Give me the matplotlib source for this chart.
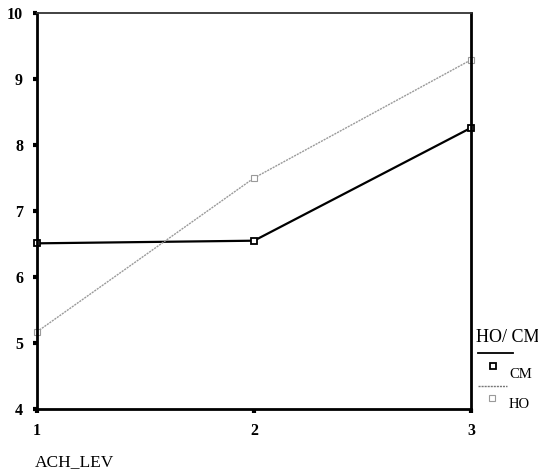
import matplotlib
matplotlib.use("Agg")
import matplotlib.pyplot as plt
from matplotlib.lines import Line2D

x_levels = [1, 2, 3]
cm_values = [6.51, 6.55, 8.26]
ho_values = [5.17, 7.50, 9.29]
y_ticks = [4, 5, 6, 7, 8, 9, 10]
x_ticks = [1, 2, 3]
series_names = ['CM', 'HO']
legend_title = 'HO/ CM'
x_label = 'ACH_LEV'

plt.rcParams['font.family'] = ['Liberation Serif', 'DejaVu Serif']

W, H = 538, 471
fig = plt.figure(figsize=(W/100, H/100), dpi=100)
ax = fig.add_axes([37/W, 1 - 409/H, (471-37)/W, (409-13)/H])

cm_style = dict(color='black', lw=1.6, marker='s', ms=5, mfc='white', mec='black', mew=1.3)
ho_style = dict(color='#9a9a9a', lw=1.0, ls=(0, (1.5, 0.7)), marker='s', ms=5,
                mfc='white', mec='#9a9a9a', mew=0.8)

ax.plot(x_levels, cm_values, clip_on=False, **cm_style)
ax.plot(x_levels, ho_values, clip_on=False, **ho_style)

ax.set_xlim(1, 3)
ax.set_ylim(4, 10)
ax.set_xticks(x_ticks)
ax.set_yticks(y_ticks)
ax.tick_params(axis='both', direction='out', length=3, width=3, labelsize=11.5)
ax.tick_params(axis='y', pad=7)
ax.tick_params(axis='x', pad=7)
for lbl in ax.get_xticklabels() + ax.get_yticklabels():
    lbl.set_fontweight('bold')
ax.spines['left'].set_linewidth(2.0)
ax.spines['bottom'].set_linewidth(2.0)
ax.spines['right'].set_linewidth(2.0)
ax.spines['top'].set_linewidth(1.3)
ax.spines['top'].set_color('#333333')

fig.text(35/W, 1 - 462/H, x_label, fontsize=12.5, ha='left', va='center')

# legend drawn in figure pixel coordinates
def fx(px):
    return px / W

def fy(py):
    return 1 - py / H

fig.text(fx(476), fy(338), legend_title, fontsize=13, ha='left', va='center')
fig.add_artist(Line2D([fx(478), fx(513)], [fy(353), fy(353)], color='black', lw=1.3))
fig.add_artist(Line2D([fx(493)], [fy(366)], ls='none', marker='s', ms=5,
                      mfc='white', mec='black', mew=1.3))
fig.text(fx(509), fy(374), series_names[0], fontsize=10.5, ha='left', va='center')
fig.add_artist(Line2D([fx(478), fx(507)], [fy(386), fy(386)], color='#777777', lw=1.0,
                      ls=(0, (1.5, 0.7))))
fig.add_artist(Line2D([fx(492)], [fy(398)], ls='none', marker='s', ms=5,
                      mfc='white', mec='#9a9a9a', mew=0.8))
fig.text(fx(509), fy(404), series_names[1], fontsize=10.5, ha='left', va='center')

fig.savefig('out.png', dpi=100)
